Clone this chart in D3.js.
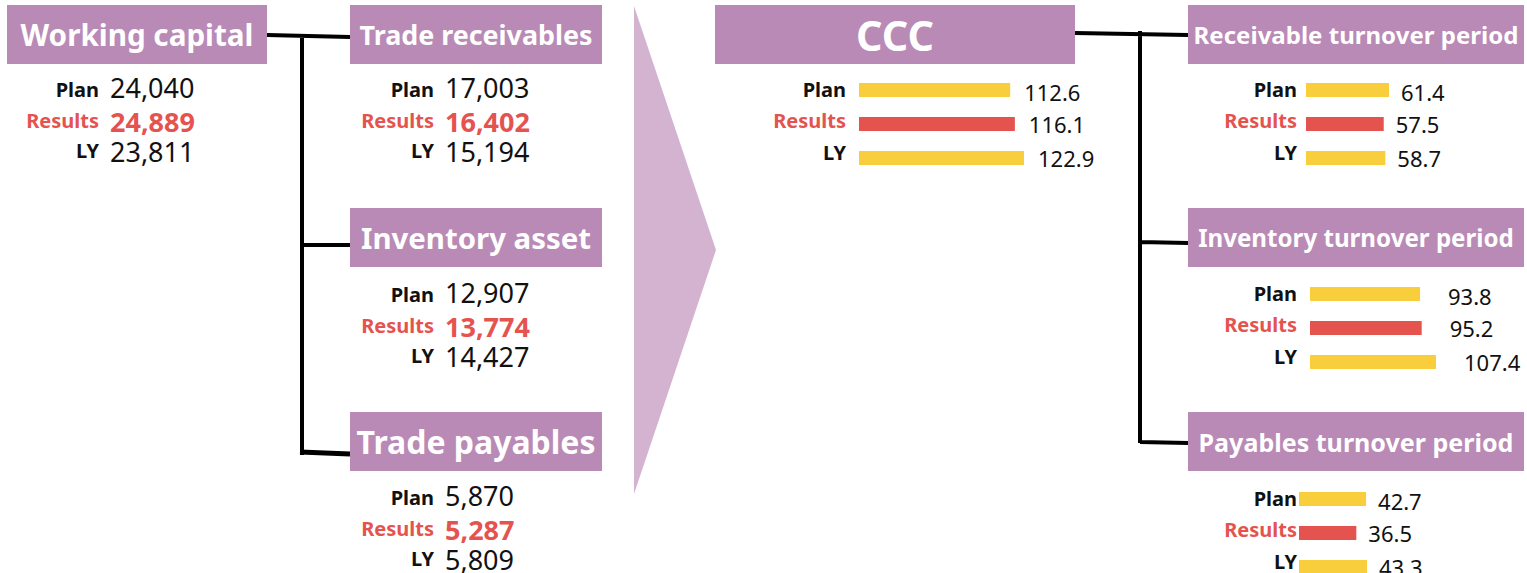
<!DOCTYPE html>
<html>
<head>
<meta charset="utf-8">
<script src="https://cdn.jsdelivr.net/npm/d3@7"></script>
<style>
  body { margin: 0; background: #fff; }
  text { font-family: "Noto Sans", "Open Sans", sans-serif; }
</style>
</head>
<body>
<div id="chart"></div>
<script>
// --- data ---
var rowLabels = ["Plan", "Results", "LY"];

var amountNames = ["Working capital", "Trade receivables", "Inventory asset", "Trade payables"];
var amountPlan = [24040, 17003, 12907, 5870];
var amountResults = [24889, 16402, 13774, 5287];
var amountLY = [23811, 15194, 14427, 5809];

var periodNames = ["CCC", "Receivable turnover period", "Inventory turnover period", "Payables turnover period"];
var periodPlan = [112.6, 61.4, 93.8, 42.7];
var periodResults = [116.1, 57.5, 95.2, 36.5];
var periodLY = [122.9, 58.7, 107.4, 43.3];

// --- layout ---
var width = 1527, height = 573;
var purple = "#b98ab6", arrowCol = "#d4b3d1", red = "#e5534f", yellow = "#f9ce3c";

var leftBoxX = [7, 350, 350, 350], leftBoxW = [260, 252, 252, 252];
var boxY = [5, 5, 208, 412], boxH = 59;
var leftTitleW = [233, 233, 230, 239];
var leftLabelX = [99, 434, 434, 434];
var leftRowY = [98, 98, 303, 506];   // baseline of the Plan number
var numOff = [0, 34, 64];
var labOff = [-1, 30, 60];

var rightBoxX = [715, 1188, 1188, 1188], rightBoxW = [360, 336, 336, 336];
var rightTitleW = [78, 325, 316, 315];
var rightLabelX = [846, 1297, 1297, 1297];
var barX0 = [859, 1306, 1310, 1299];
var barMaxW = [165, 83, 126, 68];
var barTop = [83, 83, 287, 492];
var barOff = [0, 34, 68];
var rLabOff = [14, 45, 77];
var valOff = [18, 16, 16];
var valueGap = [14, 12, 28, 12];

var svg = d3.select("#chart").append("svg")
    .attr("width", width)
    .attr("height", height);

var fmt = d3.format(",");

// title boxes, text fitted to the box
function titleBox(x, y, w, name, textW) {
    svg.append("rect")
        .attr("x", x).attr("y", y).attr("width", w).attr("height", boxH)
        .attr("fill", purple);
    var t = svg.append("text")
        .attr("x", x + w / 2).attr("y", y + boxH / 2)
        .attr("text-anchor", "middle")
        .attr("dominant-baseline", "central")
        .attr("fill", "#fff")
        .attr("font-weight", "bold")
        .attr("font-size", 20)
        .text(name);
    var len = t.node().getComputedTextLength();
    t.attr("font-size", 20 * textW / len);
}

// arrow in the middle
svg.append("path")
    .attr("d", "M634,6 L716,250 L634,494 Z")
    .attr("fill", arrowCol);

// connectors
var lineG = svg.append("g").attr("stroke", "#000").attr("fill", "none");
lineG.append("path").attr("stroke-width", 4)
    .attr("d", "M267,35 L350,37 M302,34 L302,455 M302,245 L350,245");
lineG.append("path").attr("stroke-width", 5)
    .attr("d", "M300,452 L350,454");
lineG.append("path").attr("stroke-width", 4)
    .attr("d", "M1075,33 L1188,35 M1140,31 L1140,443 M1140,242 L1188,243 M1140,442 L1188,443");

// left side: amounts
amountNames.forEach(function(name, i) {
    titleBox(leftBoxX[i], boxY[i], leftBoxW[i], name, leftTitleW[i]);
    var vals = [amountPlan[i], amountResults[i], amountLY[i]];
    rowLabels.forEach(function(r, j) {
        var isRes = r === "Results";
        svg.append("text")
            .attr("x", leftLabelX[i]).attr("y", leftRowY[i] + labOff[j])
            .attr("text-anchor", "end")
            .attr("font-weight", "bold")
            .attr("font-size", 20)
            .attr("fill", isRes ? red : "#111")
            .text(r);
        svg.append("text")
            .attr("x", leftLabelX[i] + 11).attr("y", leftRowY[i] + numOff[j])
            .attr("font-weight", isRes ? "bold" : "normal")
            .attr("font-size", 27)
            .attr("fill", isRes ? red : "#111")
            .text(fmt(vals[j]));
    });
});

// right side: periods with bars
periodNames.forEach(function(name, i) {
    titleBox(rightBoxX[i], boxY[i], rightBoxW[i], name, rightTitleW[i]);
    var vals = [periodPlan[i], periodResults[i], periodLY[i]];
    var x = d3.scaleLinear().domain([0, d3.max(vals)]).range([0, barMaxW[i]]);
    rowLabels.forEach(function(r, j) {
        var y = barTop[i] + barOff[j];
        var isRes = r === "Results";
        svg.append("rect")
            .attr("x", barX0[i]).attr("y", y)
            .attr("width", x(vals[j])).attr("height", 14)
            .attr("fill", isRes ? red : yellow);
        svg.append("text")
            .attr("x", rightLabelX[i]).attr("y", barTop[i] + rLabOff[j])
            .attr("text-anchor", "end")
            .attr("font-weight", "bold")
            .attr("font-size", 20)
            .attr("fill", isRes ? red : "#111")
            .text(r);
        svg.append("text")
            .attr("x", barX0[i] + x(vals[j]) + valueGap[i]).attr("y", y + valOff[j])
            .attr("font-size", 22)
            .attr("fill", "#111")
            .text(vals[j]);
    });
});
</script>
</body>
</html>
